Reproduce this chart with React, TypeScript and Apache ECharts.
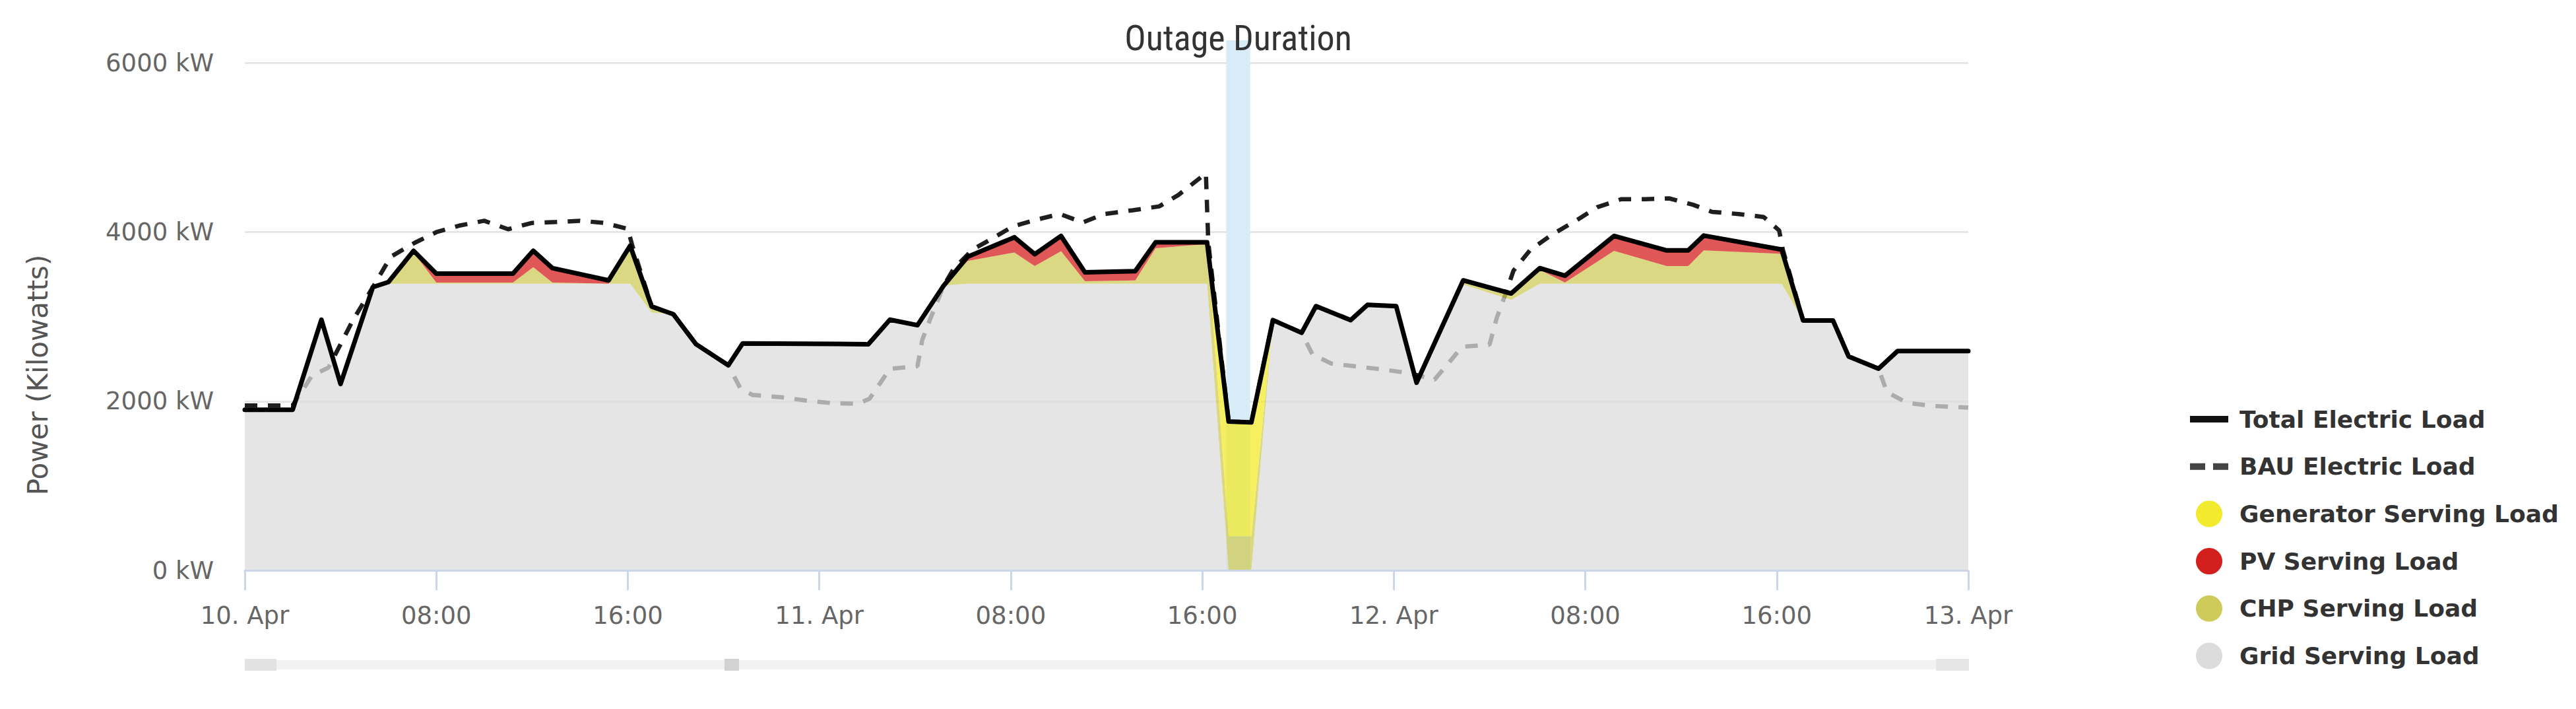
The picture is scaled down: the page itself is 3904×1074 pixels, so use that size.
import React, { useEffect, useRef } from 'react';
import * as echarts from 'echarts';

// Hours since 10 Apr 00:00
const hours = [0, 2, 3.2, 4, 5.35, 6, 7.05, 8, 11.2, 12.05, 12.85, 15.2, 16.1, 17, 17.9, 18.85, 20.2, 20.8, 26.05, 26.95, 28.1, 29.2, 30.2, 32.15, 33, 34.1, 35.1, 37.2, 38.05, 40.2, 41.1, 42.05, 42.95, 44.15, 44.75, 46.2, 46.9, 48.1, 48.95, 50.9, 52.9, 54.1, 55.15, 57.2, 59.4, 60.3, 60.95, 64.2, 65.1, 66.35, 67, 68.25, 69.05, 72];

const totalLoad = [1900, 1900, 2965, 2205, 3350, 3410, 3780, 3510, 3510, 3780, 3575, 3430, 3840, 3120, 3030, 2675, 2425, 2685, 2675, 2965, 2900, 3370, 3710, 3940, 3740, 3955, 3525, 3540, 3880, 3880, 1760, 1750, 2960, 2810, 3125, 2960, 3140, 3125, 2220, 3430, 3275, 3575, 3485, 3955, 3785, 3785, 3960, 3795, 2955, 2955, 2530, 2385, 2595, 2595];

const gridLoad = [1900, 1900, 2965, 2205, 3350, 3390, 3390, 3390, 3390, 3390, 3390, 3390, 3390, 3050, 3030, 2675, 2425, 2685, 2675, 2965, 2900, 3370, 3390, 3390, 3390, 3390, 3390, 3390, 3390, 3390, 0, 0, 2960, 2810, 3125, 2960, 3140, 3125, 2220, 3380, 3200, 3390, 3390, 3390, 3390, 3390, 3390, 3390, 2955, 2955, 2530, 2385, 2595, 2595];

const chpLoad = [0, 0, 0, 0, 0, 20, 370, 15, 15, 195, 15, 0, 420, 70, 0, 0, 0, 0, 0, 0, 0, 0, 270, 370, 210, 385, 30, 40, 420, 470, 405, 405, 0, 0, 0, 0, 0, 0, 0, 50, 75, 165, 15, 390, 210, 210, 395, 355, 0, 0, 0, 0, 0, 0];

const pvLoad = [0, 0, 0, 0, 0, 0, 20, 105, 105, 195, 170, 40, 30, 0, 0, 0, 0, 0, 0, 0, 0, 0, 50, 180, 140, 180, 105, 110, 70, 20, 0, 0, 0, 0, 0, 0, 0, 0, 0, 0, 0, 20, 80, 175, 185, 185, 175, 50, 0, 0, 0, 0, 0, 0];

const genLoad = [0, 0, 0, 0, 0, 0, 0, 0, 0, 0, 0, 0, 0, 0, 0, 0, 0, 0, 0, 0, 0, 0, 0, 0, 0, 0, 0, 0, 0, 0, 1355, 1345, 0, 0, 0, 0, 0, 0, 0, 0, 0, 0, 0, 0, 0, 0, 0, 0, 0, 0, 0, 0, 0, 0];

const bauHours = [0, 2, 2.8, 3.5, 4.5, 5.35, 5.6, 6.1, 7.1, 8, 9, 10, 11, 12, 13, 14, 15, 16, 16.2, 17, 17.9, 18.85, 20.2, 20.7, 21.2, 22.5, 23.4, 24.45, 25.6, 26.1, 26.95, 28.1, 28.3, 28.65, 29.2, 29.6, 30.4, 31.2, 32.1, 33.1, 34.05, 35, 35.9, 37.1, 38.2, 39, 39.9, 40.15, 40.25, 41.1, 42.05, 42.95, 44.15, 44.6, 45.4, 46.5, 47.55, 48.6, 49.7, 50.4, 50.85, 52, 52.3, 52.7, 53, 53.7, 54.6, 55.6, 56.5, 57.5, 58.5, 59.5, 60.5, 61.3, 62.4, 63.45, 64.1, 64.25, 65.1, 66.35, 67, 68.25, 68.6, 69.45, 70.5, 71.6, 72];

const bauLoad = [1950, 1950, 2300, 2400, 2950, 3350, 3470, 3710, 3875, 4000, 4080, 4135, 4035, 4110, 4120, 4135, 4110, 4040, 3830, 3120, 3030, 2675, 2425, 2155, 2075, 2045, 2010, 1980, 1970, 2030, 2385, 2415, 2725, 2985, 3370, 3560, 3795, 3920, 4070, 4150, 4215, 4115, 4215, 4260, 4305, 4440, 4640, 4700, 3880, 1760, 1750, 2960, 2810, 2555, 2445, 2410, 2375, 2335, 2255, 2490, 2645, 2670, 2985, 3295, 3545, 3790, 3970, 4135, 4295, 4390, 4390, 4400, 4325, 4240, 4215, 4180, 4020, 3795, 2955, 2955, 2530, 2385, 2110, 1980, 1945, 1930, 1925];

const outageHours = [41, 42];
const yTicks = { min: 0, max: 6270, step: 2000 };
const xTicks = { min: 0, max: 72, step: 8 };

const colors = {
  total: '#000000',
  bau: '#1e1e1e',
  gen: '#f2ea2c',
  pv: '#d41f1f',
  chp: '#cfcb5a',
  grid: '#dcdcdc',
};

// rows are [value, hour]; encode maps hour -> x, value -> y (so stacking is on the value)
const rows = (xs: number[], ys: number[]) => xs.map((x, i) => [ys[i], x]);

function areaSeries(name: string, values: number[], color: string) {
  return {
    name,
    type: 'line',
    stack: 'load',
    color,
    data: rows(hours, values),
    encode: { x: 1, y: 0 },
    symbol: 'none',
    showSymbol: false,
    silent: true,
    lineStyle: { width: 0, color },
    itemStyle: { color },
    areaStyle: { color, opacity: 0.75 },
    z: 3,
  };
}

export default function App() {
  const ref = useRef<HTMLDivElement>(null);
  useEffect(() => {
    const chart = echarts.init(ref.current!, null, { renderer: 'svg' });
    const labelFont = 'DejaVu Sans, Verdana, sans-serif';
    const option = {
      animation: false,
      backgroundColor: '#ffffff',
      grid: { left: 371, right: 921, top: 61, bottom: 210, containLabel: false },
      xAxis: {
        type: 'value',
        min: xTicks.min,
        max: xTicks.max,
        interval: xTicks.step,
        z: 5,
        axisLine: { lineStyle: { color: '#ccd6eb', width: 3 } },
        axisTick: { show: true, length: 30, lineStyle: { color: '#ccd6eb', width: 3 } },
        splitLine: { show: false },
        axisLabel: {
          margin: 50,
          color: '#666666',
          fontSize: 37,
          fontFamily: labelFont,
          formatter: (v: number) =>
            v % 24 === 0 ? `${10 + v / 24}. Apr` : `${String(v % 24).padStart(2, '0')}:00`,
        },
      },
      yAxis: {
        type: 'value',
        min: yTicks.min,
        max: yTicks.max,
        interval: yTicks.step,
        axisLine: { show: false },
        axisTick: { show: false },
        axisLabel: {
          formatter: (v: number) => `${v} kW`,
          showMaxLabel: false,
          margin: 47,
          color: '#666666',
          fontSize: 37,
          fontFamily: labelFont,
        },
        splitLine: { show: true, showMaxLine: false, lineStyle: { color: '#e6e6e6', width: 3 } },
      },
      legend: {
        orient: 'vertical',
        left: 3314,
        top: 610,
        itemWidth: 58,
        itemHeight: 40,
        itemGap: 31.7,
        selectedMode: false,
        itemStyle: { borderWidth: 0 },
        textStyle: {
          fontFamily: labelFont,
          fontWeight: 'bold',
          fontSize: 36,
          color: '#333333',
          lineHeight: 40,
          padding: [0, 0, 0, 12],
        },
        data: [
          { name: 'Total Electric Load', icon: 'path://M0,0h58v10h-58z', itemStyle: { color: '#111111', borderWidth: 0 } },
          { name: 'BAU Electric Load', icon: 'path://M0,0h23v10h-23zM35,0h23v10h-23z', itemStyle: { color: '#444444', borderWidth: 0 } },
          { name: 'Generator Serving Load', icon: 'circle', itemStyle: { color: colors.gen, borderWidth: 0 } },
          { name: 'PV Serving Load', icon: 'circle', itemStyle: { color: colors.pv, borderWidth: 0 } },
          { name: 'CHP Serving Load', icon: 'circle', itemStyle: { color: colors.chp, borderWidth: 0 } },
          { name: 'Grid Serving Load', icon: 'circle', itemStyle: { color: colors.grid, borderWidth: 0 } },
        ],
      },
      graphic: [
        {
          type: 'text',
          x: 57,
          y: 568,
          rotation: Math.PI / 2,
          style: {
            text: 'Power (Kilowatts)',
            fontSize: 42,
            fontFamily: labelFont,
            fill: '#555555',
            align: 'center',
            verticalAlign: 'middle',
          },
        },
        { type: 'rect', shape: { x: 371, y: 1000, width: 2613, height: 14 }, style: { fill: '#f2f2f2' } },
        { type: 'rect', shape: { x: 371, y: 998, width: 48, height: 18 }, style: { fill: '#e2e2e2' } },
        { type: 'rect', shape: { x: 1098, y: 998, width: 22, height: 18 }, style: { fill: '#d2d2d2' } },
        { type: 'rect', shape: { x: 2934, y: 998, width: 50, height: 18 }, style: { fill: '#e6e6e6' } },
      ],
      series: [
        {
          name: 'BAU Electric Load',
          type: 'line',
          color: colors.bau,
          data: rows(bauHours, bauLoad),
          encode: { x: 1, y: 0 },
          symbol: 'none',
          showSymbol: false,
          silent: true,
          z: 2,
          lineStyle: { color: colors.bau, width: 6.5, type: [19, 16] },
          itemStyle: { color: colors.bau },
          markArea: {
            silent: true,
            z: 1,
            itemStyle: { color: '#d7ecf6' },
            label: {
              show: true,
              position: ['50%', -4],
              align: 'center',
              verticalAlign: 'middle',
              color: '#333333',
              fontSize: 54,
              fontFamily: 'Liberation Sans Narrow, Arial Narrow, Roboto Condensed, sans-serif',
              formatter: 'Outage Duration',
            },
            data: [[{ xAxis: outageHours[0], yAxis: yTicks.min }, { xAxis: outageHours[1], yAxis: yTicks.max }]],
          },
        },
        areaSeries('Grid Serving Load', gridLoad, colors.grid),
        areaSeries('CHP Serving Load', chpLoad, colors.chp),
        areaSeries('PV Serving Load', pvLoad, colors.pv),
        areaSeries('Generator Serving Load', genLoad, colors.gen),
        {
          name: 'Total Electric Load',
          type: 'line',
          color: colors.total,
          data: rows(hours, totalLoad),
          encode: { x: 1, y: 0 },
          symbol: 'none',
          showSymbol: false,
          silent: true,
          z: 4,
          lineStyle: { color: colors.total, width: 7, join: 'round', cap: 'round' },
          itemStyle: { color: colors.total },
        },
      ],
    };
    chart.setOption(option as any);
    return () => chart.dispose();
  }, []);
  return (
    <div
      ref={ref}
      style={{ position: 'absolute', left: 0, top: 0, width: 3904, height: 1074, background: '#ffffff' }}
    />
  );
}
